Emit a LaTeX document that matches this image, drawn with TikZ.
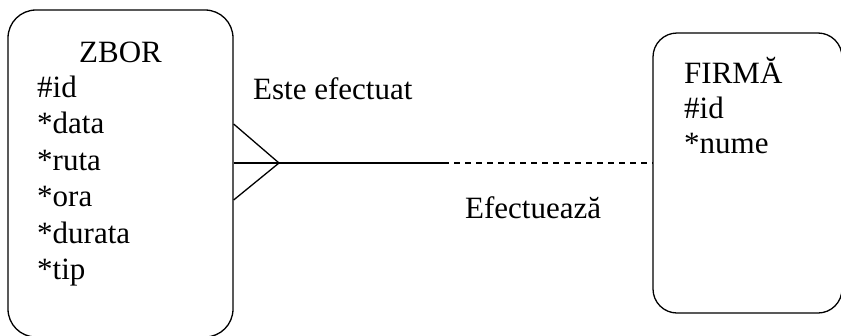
\documentclass[tikz,border=0pt]{standalone}
\usepackage{fontspec}
\setmainfont{Liberation Serif}
\begin{document}
\begin{tikzpicture}[x=1pt,y=-1pt,
  entity/.style={draw, line width=1.3pt, rounded corners=28pt, inner sep=0pt},
  lbl/.style={anchor=base west, inner sep=0pt, font=\fontsize{31}{36}\selectfont},
  ttl/.style={anchor=base, inner sep=0pt, font=\fontsize{31}{36}\selectfont},
  rel/.style={line width=1.3pt}]
\useasboundingbox (0,0) rectangle (841,335);
\node[entity, minimum width=225pt, minimum height=327pt] (zbor) at (120.5,173.5) {};
\node[entity, minimum width=189pt, minimum height=280pt, rounded corners=24pt] (firma) at (747.5,173) {};
\node[ttl] (zt) at (120.5,62) {ZBOR};
\node[lbl] (z1) at (37,97) {\#id};
\node[lbl] (z2) at (37,133.5) {*data};
\node[lbl] (z3) at (37,170) {*ruta};
\node[lbl] (z4) at (37,206.5) {*ora};
\node[lbl] (z5) at (37,243) {*durata};
\node[lbl] (z6) at (37,279.5) {*tip};
\node[lbl] (ft) at (684,83) {FIRMĂ};
\node[lbl] (f1) at (684,118) {\#id};
\node[lbl] (f2) at (684,153) {*nume};
\node[lbl] (r1) at (253,99) {Este efectuat};
\node[lbl] (r2) at (465,218) {Efectuează};
\coordinate (zl) at (zbor.east |- 0,163);
\coordinate (zu) at (zbor.east |- 0,124);
\coordinate (zd) at (zbor.east |- 0,200);
\coordinate (tip) at (279,163);
\coordinate (mid) at (443,163);
\coordinate (fr) at (firma.west |- 0,163);
\draw[rel] (zu) -- (tip) -- (zd);
\draw[rel] (zl) -- (tip) -- (mid);
\draw[rel, dash pattern=on 6pt off 5pt] (mid) -- (fr);
\end{tikzpicture}
\end{document}
